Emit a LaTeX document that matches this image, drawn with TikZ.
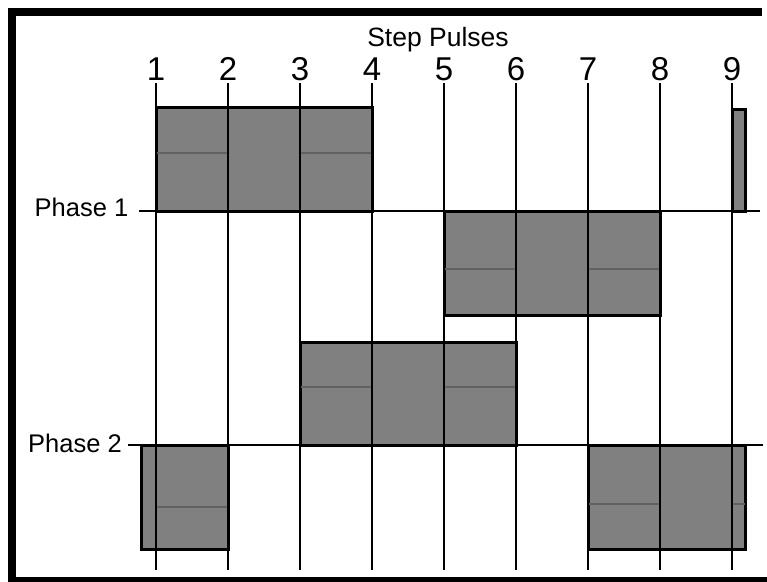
\documentclass[tikz,border=0pt]{standalone}
\usepackage{fontspec}
\setmainfont{Liberation Sans}
\begin{document}
\begin{tikzpicture}[x=1pt,y=-1pt,
  pulsebox/.style={fill=black!50,draw=black,line width=3pt},
  seam/.style={draw=black!62,line width=1.2pt},
  gridline/.style={draw=black,line width=2.8pt},
  phaseline/.style={draw=black,line width=2.6pt},
  framebar/.style={draw=black,line width=8pt},
  lbl/.style={inner sep=0pt,font=\fontsize{25.5}{30}\selectfont},
  num/.style={inner sep=0pt,anchor=base,font=\fontsize{33}{38}\selectfont}]
\useasboundingbox (0,0) rectangle (767,581);
% frame
\draw[framebar] (762,11.5) -- (12,11.5) -- (12,581) -- (775,581);
% boxes
\draw[pulsebox] (156,107) rectangle (372,211);
\draw[pulsebox] (732,109) rectangle (745,211);
\draw[pulsebox] (444,211) rectangle (660,315);
\draw[pulsebox] (300,342) rectangle (516,445);
\draw[pulsebox] (141,445) rectangle (228,549);
\draw[pulsebox] (588,445) rectangle (745,549);
% seams
\draw[seam] (156,153) -- (228,153);
\draw[seam] (300,153) -- (372,153);
\draw[seam] (444,269) -- (516,269);
\draw[seam] (588,269) -- (660,269);
\draw[seam] (300,387) -- (372,387);
\draw[seam] (444,387) -- (516,387);
\draw[seam] (156,507) -- (228,507);
\draw[seam] (588,504) -- (660,504);
\draw[seam] (732,504) -- (745,504);
% phase lines
\coordinate (p1s) at (139,211); \coordinate (p1e) at (760,211);
\coordinate (p2s) at (128,445); \coordinate (p2e) at (763,445);
\draw[phaseline] (p1s) -- (p1e);
\draw[phaseline] (p2s) -- (p2e);
% step lines and numbers
\foreach \i in {1,...,9}{
  \pgfmathsetmacro{\xx}{156+72*(\i-1)}
  \coordinate (t\i) at (\xx,83);
  \coordinate (b\i) at (\xx,570);
  \draw[gridline] (t\i) -- (b\i);
  \node[num] (n\i) at (\xx,80) {\i};
}
% labels
\node[lbl,anchor=base,font=\fontsize{26.5}{30}\selectfont] (title) at (438,46.5) {Step Pulses};
\node[lbl,anchor=base east] (ph1) at (128.5,216) {Phase 1};
\node[lbl,anchor=base east] (ph2) at (122,452) {Phase 2};
\end{tikzpicture}
\end{document}
